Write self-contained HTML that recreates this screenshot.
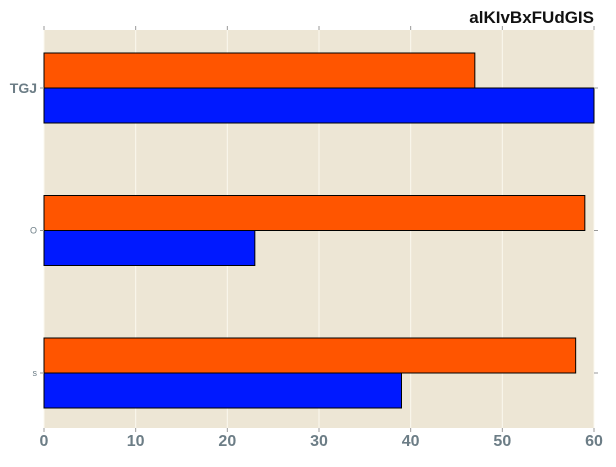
<!DOCTYPE html>
<html><head><meta charset="utf-8"><style>
body{margin:0;background:#fff;font-family:"Liberation Sans",sans-serif}
</style></head><body>
<svg width="616" height="462" xmlns="http://www.w3.org/2000/svg">
<rect x="44" y="30" width="550" height="398" fill="#ede6d5"/>
<g id="grid"></g><g id="bars"></g><g id="axes"></g>
<text x="594" y="23" text-anchor="end" font-size="17" font-weight="bold" fill="#111">alKIvBxFUdGIS</text>
<script>
const categories=["TGJ","O","s"];
const seriesOrange=[47,59,58];
const seriesBlue=[60,23,39];
const xTicks=[0,10,20,30,40,50,60];
const ns="http://www.w3.org/2000/svg";
const X=v=>44+v*550/60;
const Y=i=>88+i*142.5;
const H=35;
function mk(t,a,p){const e=document.createElementNS(ns,t);for(const k in a)e.setAttribute(k,a[k]);p.appendChild(e);return e;}
const g=document.getElementById('grid'),b=document.getElementById('bars'),ax=document.getElementById('axes');
xTicks.forEach(v=>{
 const l=mk('line',{x1:X(v),x2:X(v),y1:30,y2:428,stroke:'#fbf8ef','stroke-width':1},g);
 
 
 mk('line',{x1:X(v),x2:X(v),y1:428,y2:432,stroke:'#999'},ax);
 mk('line',{x1:X(v),x2:X(v),y1:26,y2:30,stroke:'#999'},ax);
 const t=mk('text',{x:X(v),y:446,'text-anchor':'middle','font-size':16,'font-weight':'bold',fill:'#6c7d86'},ax);
 t.textContent=v;
 
 
});
categories.forEach((c,i)=>{
 const r1=mk('rect',{x:X(0),y:Y(i)-H,width:X(seriesOrange[i])-X(0),height:H,fill:'#ff5500',stroke:'#000','stroke-width':1},b);
 
 
 const r2=mk('rect',{x:X(0),y:Y(i),width:X(seriesBlue[i])-X(0),height:H,fill:'#0019ff',stroke:'#000','stroke-width':1},b);
 
 
 mk('line',{x1:40,x2:44,y1:Y(i),y2:Y(i),stroke:'#999'},ax);
 mk('line',{x1:594,x2:598,y1:Y(i),y2:Y(i),stroke:'#999'},ax);
 const big=i===0;
 const t=mk('text',{x:37,y:Y(i)+(big?5:3),'text-anchor':'end','font-size':big?14:9,'font-weight':big?'bold':'normal',fill:'#6c7d86'},ax);
 t.textContent=c;
 
 
});
</script>
</svg>
</body></html>
